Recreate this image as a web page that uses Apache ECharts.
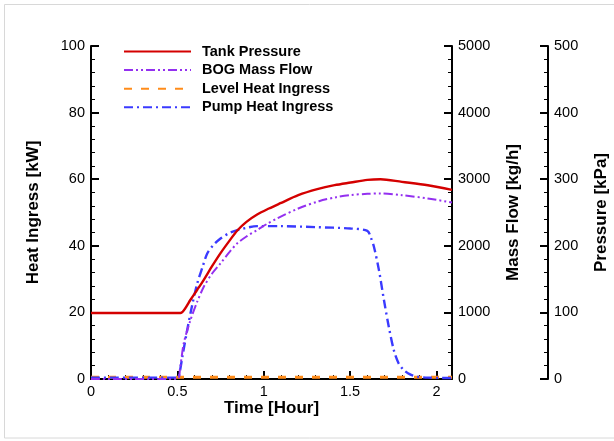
<!DOCTYPE html>
<html>
<head>
<meta charset="utf-8">
<script src="https://cdn.jsdelivr.net/npm/echarts@6/dist/echarts.min.js"></script>
<style>html,body{margin:0;padding:0;background:#fff}#c{width:614px;height:441px}</style>
</head>
<body>
<div id="c"></div>
<script>
// Data (time in hours)
var tankPressure = [[0,99],[0.518,99],[0.545,106],[0.576,119],[0.615,134],[0.653,149],[0.7,169],[0.75,189],[0.8,207],[0.847,223],[0.9,236],[0.962,247],[1.03,256],[1.097,264],[1.2,276],[1.31,285],[1.41,291],[1.503,295],[1.6,299],[1.676,300],[1.8,296],[1.95,291],[2.09,284]];
var bogMassFlow = [[0,0],[0.5,0],[0.515,150],[0.537,536],[0.576,886],[0.615,1160],[0.653,1386],[0.7,1580],[0.75,1737],[0.8,1900],[0.847,2037],[0.9,2140],[0.962,2237],[1.02,2330],[1.078,2412],[1.2,2560],[1.32,2670],[1.42,2730],[1.503,2762],[1.6,2780],[1.676,2787],[1.8,2760],[1.95,2710],[2.09,2650]];
var levelHeat = [[0,0.5],[0.5,0.5],[1.0,0.5],[1.5,0.5],[2.09,0.5]];
var pumpHeat = [[0,0.4],[0.5,0.4],[0.508,0.6],[0.53,7],[0.557,14.7],[0.585,22],[0.615,28.7],[0.645,33.5],[0.673,37.7],[0.71,40.3],[0.75,42.2],[0.8,43.8],[0.847,44.7],[0.9,45.4],[0.962,45.9],[1.1,45.9],[1.3,45.6],[1.503,45.2],[1.6,44.5],[1.62,42.5],[1.638,39.7],[1.667,32.7],[1.696,23.7],[1.724,15.7],[1.753,8.7],[1.78,4.8],[1.811,2.7],[1.85,1.3],[1.889,0.7],[1.95,0.4],[2.09,0.3]];
var seriesNames = ['Tank Pressure','BOG Mass Flow','Level Heat Ingress','Pump Heat Ingress'];
var xTicks = {min:0, max:2.09, interval:0.5};
var heatTicks = {min:0, max:100, interval:20};
var flowTicks = {min:0, max:5000, interval:1000};
var presTicks = {min:0, max:500, interval:100};

var chart = echarts.init(document.getElementById('c'), null, {renderer:'canvas'});
var FONT = 'Liberation Sans, Arial, sans-serif';
function yAx(t, name, pos, offset, gap){
  return {
    type:'value', min:t.min, max:t.max, interval:t.interval, position:pos, offset:offset,
    name:name, nameLocation:'middle', nameGap:gap, nameRotate:90,
    nameTextStyle:{fontFamily:FONT, fontWeight:'bold', fontSize:17, color:'#000'},
    axisLine:{show:true, onZero:false, lineStyle:{color:'#000', width:2}},
    axisTick:{show:true, inside:true, length:8, lineStyle:{color:'#000', width:2}},
    minorTick:{show:true, splitNumber:5, length:4, lineStyle:{color:'#000', width:1}},
    splitLine:{show:false},
    axisLabel:{fontFamily:FONT, fontSize:14.5, color:'#000', margin:6, formatter:function(v){return String(v);}}
  };
}
var option = {
  backgroundColor:'#fff',
  animation:false,
  graphic:[{type:'rect', shape:{x:4.5, y:4.5, width:620, height:433.5}, style:{fill:null, stroke:'#d8d8d8', lineWidth:1}}],
  grid:{left:91, right:162, top:46, bottom:62, containLabel:false, outerBoundsMode:'none'},
  legend:{
    left:118, top:39, orient:'vertical', itemWidth:67, itemHeight:14, itemGap:3.6,
    data:seriesNames,
    itemStyle:{opacity:0},
    textStyle:{fontFamily:FONT, fontWeight:'bold', fontSize:14.5, color:'#000', padding:[0,0,0,6]}
  },
  xAxis:{
    type:'value', min:xTicks.min, max:xTicks.max, interval:xTicks.interval,
    name:'Time [Hour]', nameLocation:'middle', nameGap:21, nameMoveOverlap:false,
    nameTextStyle:{fontFamily:FONT, fontWeight:'bold', fontSize:17, color:'#000'},
    axisLine:{show:true, onZero:false, lineStyle:{color:'#000', width:2}},
    axisTick:{show:true, inside:true, length:8, lineStyle:{color:'#000', width:2}},
    minorTick:{show:true, splitNumber:5, length:4, lineStyle:{color:'#000', width:1}},
    splitLine:{show:false},
    axisLabel:{fontFamily:FONT, fontSize:14.5, color:'#000', margin:5, showMaxLabel:false}
  },
  yAxis:[
    yAx(heatTicks, 'Heat Ingress [kW]', 'left', 0, 49),
    yAx(flowTicks, 'Mass Flow [kg/h]', 'right', 0, 53),
    yAx(presTicks, 'Pressure [kPa]', 'right', 96, 45)
  ],
  series:[
    {name:seriesNames[0], type:'line', yAxisIndex:2, data:tankPressure, symbol:'none', smooth:0.3, z:4,
     lineStyle:{color:'#d40000', width:2.4, type:'solid'}, itemStyle:{color:'#d40000'}},
    {name:seriesNames[1], type:'line', yAxisIndex:1, data:bogMassFlow, symbol:'none', smooth:0.3, z:3,
     lineStyle:{color:'#9430f0', width:2, type:[9,3,2,3,2,3]}, itemStyle:{color:'#9430f0'}},
    {name:seriesNames[2], type:'line', yAxisIndex:0, data:levelHeat, symbol:'none', z:1,
     lineStyle:{color:'#ff8c1a', width:3, type:[8,9]}, itemStyle:{color:'#ff8c1a'}},
    {name:seriesNames[3], type:'line', yAxisIndex:0, data:pumpHeat, symbol:'none', smooth:0.3, z:2,
     lineStyle:{color:'#3a3aff', width:2.4, type:[9,4,2,4]}, itemStyle:{color:'#3a3aff'}}
  ]
};
chart.setOption(option);
</script>
</body>
</html>
